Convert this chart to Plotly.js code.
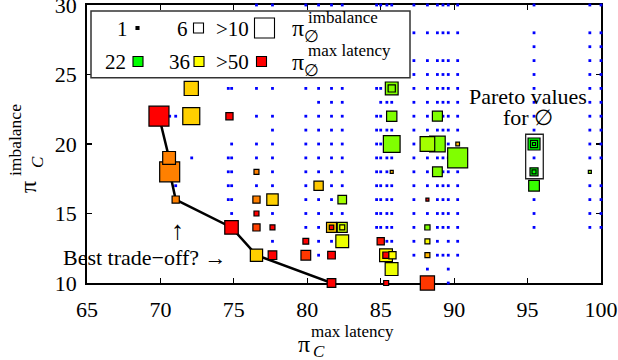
<!DOCTYPE html>
<html><head><meta charset="utf-8">
<script src="https://cdn.plot.ly/plotly-3.0.1.min.js"></script>
<style>html,body{margin:0;padding:0;background:#fff;font-family:"Liberation Serif",serif}#chart{width:618px;height:360px}</style>
</head><body><div id="chart"></div>
<script>
// ---- all evaluated configurations (blue dots): column x values and the rows present in each column
const dotCols = [70.63, 71.04, 72.13, 74.62, 74.85, 76.54, 77.63, 79.9, 80.77, 81.65, 82.38, 84.72, 85.0, 85.42, 85.75, 87.26, 88.18, 88.86, 89.24, 89.6, 90.24, 95.44, 99.24, 100.0];
const dotRows = [
  [22],
  [22,17],
  [19],
  [24,19,18,17,16],
  [24,20,19,18,17,16,15],
  [30,24,22,20,19,17],
  [30,24,22,21,20,19,18,17,15,13],
  [30,28,26,25,24,22,21,20,19,18,17,16,15,14],
  [30,28,26,25,24,23,22,21,20,19,18,16,15,14,13,12],
  [30,28,26,25,24,23,22,21,20,19,18,17,16,15,13],
  [30,28,26,25,24,23,22,21,20,19,18,17,15],
  [30,28,26,25,24,22,21,20,19,18,17,16,15,14],
  [30,28,26,25,24,23,22,21,20,19,18,17,16,15,14],
  [30,28,26,25,23,21,19,18,17,16,15,14,13],
  [30,28,26,25,23,21,19,17,16,15,14,13],
  [30,28,26,25,24,23,22,21,20,19,18,17,16,15,14,13,12],
  [30,28,26,25,24,23,22,21,19,18,17,15,11],
  [30,28,26,25,24,23,21,19,17,16,15,14,13,12],
  [30,28,26,25,24,23,22,21,20,19,18,17,16,15,14,12],
  [30,28,26,25,24,23,22,21,20,19,18,17,16,15,14,13,12,11,10],
  [30,28,26,25,24,23,22,21,18,17,16,15,14,13,12],
  [30,28,27,26,25,24,23,22,21,19,16,15,14],
  [30,28,27,26,25,24,23,22,21,20,19,17,16,15,14],
  [30,28,27,26,25,24,23,22,21,20,19,17,16,15,14]
];

// ---- configurations of C (squares): x = pi_C^max latency, y = pi_C^imbalance,
// imb = pi_Ø^imbalance (square size), lat = pi_Ø^max latency (colour)
const sqX   = [69.9, 70.63, 70.59, 71.04, 74.84, 76.54, 81.65, 72.1, 72.1, 74.7, 76.54, 76.54, 76.54, 76.54, 77.63, 77.63, 77.63, 80.77, 82.38, 81.65, 81.65, 82.38, 82.38, 82.38, 79.9, 79.9, 81.65, 85.0, 85.36, 85.36, 85.8, 85.74, 85.37, 85.75, 85.75, 85.75, 85.75, 85.75, 88.86, 88.86, 88.18, 90.24, 90.24, 88.86, 88.18, 88.18, 88.18, 88.18, 88.18, 95.44, 95.44, 95.44, 95.44, 95.44, 95.44, 99.24, 100.05];
const sqY   = [22, 18, 19, 16, 14, 12, 10, 24, 22, 22, 18, 16, 15, 14, 16, 14, 12, 17, 16, 14, 14, 14, 14, 13, 13, 12, 12, 13, 12, 12, 12, 11, 10, 24, 24, 22, 20, 18, 22, 20, 20, 19, 20, 18, 16, 14, 13, 12, 10, 20, 20, 20, 18, 18, 17, 18, 18];
const sqImb = [14, 14, 8, 4, 8.5, 7.6, 5, 9, 11, 4, 2.4, 4, 2.4, 4, 7, 2.4, 5, 5.5, 5, 6, 2, 6, 2.4, 8, 3, 5.8, 4.3, 4, 8, 3.4, 4, 8, 2.4, 8, 4, 6.2, 10.8, 1, 6, 10, 9.3, 14, 1.5, 5.8, 1, 2.6, 2.4, 2.4, 9, 7.4, 3.9, 1, 4.6, 1.7, 6.5, 1, 1];
const sqLat = [55, 43, 43, 43, 52, 38.6, 52, 38.6, 38.6, 52, 43, 43, 52, 46.5, 38.6, 52, 52, 39, 31, 39, 52, 33, 35, 35, 52, 47, 52, 49, 36, 52, 36, 35, 52, 29, 29, 29, 29, 40, 29, 29, 31, 29, 40, 29, 50, 29, 36, 40, 47, 22, 22, 22, 22, 22, 25, 30, 30];

// ---- Pareto front of C
const frontX = [69.9, 70.59, 70.63, 71.04, 74.84, 76.54, 81.65];
const frontY = [22, 19, 18, 16, 14, 12, 10];

const xTicks = [65, 70, 75, 80, 85, 90, 95, 100];
const yTicks = [10, 15, 20, 25, 30];
const legendSizeLabels = ['1', '6', '>10'];
const legendSizeValues = [1, 6, 14];
const legendLatLabels = ['22', '36', '>50'];
const legendLatValues = [22, 36, 50];

const FONT = 'Liberation Serif';
const sizePx = v => Math.min(20, 1.6 + 1.4 * v);
const colorscale = [[0, '#00ff00'], [0.5, '#ffff00'], [1, '#ff0000']];
const latColor = v => {
  const t = Math.max(0, Math.min(1, (v - 22) / 28));
  if (t <= 0.5) return 'rgb(' + Math.round(510 * t) + ',255,0)';
  return 'rgb(255,' + Math.round(255 * (1 - t) * 2) + ',0)';
};

const dx = [], dy = [];
dotCols.forEach((c, i) => dotRows[i].forEach(r => { dx.push(c); dy.push(r); }));

const traces = [
  { type: 'scatter', mode: 'markers', x: dx, y: dy, hoverinfo: 'skip', cliponaxis: false,
    marker: { symbol: 'square', size: 2.8, color: '#0000ff', opacity: 1, line: { width: 0 } } },
  { type: 'scatter', mode: 'lines', x: frontX, y: frontY, hoverinfo: 'skip',
    line: { color: '#000', width: 2.5 } },
  { type: 'scatter', mode: 'markers', x: sqX, y: sqY, cliponaxis: false,
    marker: { symbol: 'square', size: sqImb.map(sizePx), color: sqLat, colorscale: colorscale, opacity: 1,
      cmin: 22, cmax: 50, showscale: false, line: { color: '#000', width: 1.2 } } }
];

// plot area in pixels: x 87..601, y 5..283
const PL = 87, PR = 601, PT = 5, PB = 283;
const px = p => (p - PL) / (PR - PL);
const py = p => (PB - p) / (PB - PT);

const shapes = [
  { type: 'rect', xref: 'x', yref: 'y', x0: 94.87, x1: 96.07, y0: 17.5, y1: 20.7,
    line: { color: '#222', width: 1.3 }, layer: 'above' },
  { type: 'rect', xref: 'paper', yref: 'paper', x0: px(91), x1: px(410), y0: py(77.7), y1: py(11),
    fillcolor: '#fff', line: { color: '#333', width: 1.5 }, layer: 'above' }
];
const annotations = [];
function ann(text, x, y, size, extra) {
  annotations.push(Object.assign({ text: text, xref: 'paper', yref: 'paper', x: px(x), y: py(y),
    xanchor: 'center', yanchor: 'middle', showarrow: false, font: { family: FONT, size: size, color: '#000' } }, extra || {}));
}
function sq(cx, cy, s, fill) {
  shapes.push({ type: 'rect', xref: 'paper', yref: 'paper', x0: px(cx - s / 2), x1: px(cx + s / 2),
    y0: py(cy + s / 2), y1: py(cy - s / 2), fillcolor: fill, line: { color: '#000', width: 1.1 }, layer: 'above' });
}
// legend row 1 (size)
const lgX = [122, 182.5, 232.5];
const lgSqX = [137.5, 198.5, 264.5];
legendSizeLabels.forEach((t, i) => {
  ann(t.replace('>', '&gt;'), lgX[i], 29, 21);
  sq(lgSqX[i], 28, sizePx(legendSizeValues[i]), i === 0 ? '#000' : '#fff');
});
// legend row 2 (colour)
const lgX2 = [115, 179.5, 232.5];
const lgSqX2 = [138, 199, 261.5];
legendLatLabels.forEach((t, i) => {
  ann(t.replace('>', '&gt;'), lgX2[i], 62, 21);
  sq(lgSqX2[i], 61.5, 10, latColor(legendLatValues[i]));
});
ann('π', 298, 28, 24);
ann('imbalance', 306, 17.5, 17, { xanchor: 'left' });
ann('∅', 311.5, 37, 17);
ann('π', 298, 62, 24);
ann('max latency', 306, 51, 17, { xanchor: 'left' });
ann('∅', 311.5, 71, 17);

// axis titles
ann('π', 304, 344, 24);
ann('max latency', 309, 331, 17, { xanchor: 'left' });
ann('<i>C</i>', 319, 351, 17);
ann('π', 28, 187, 24, { textangle: -90 });
ann('imbalance', 15, 140, 17.5, { textangle: -90 });
ann('<i>C</i>', 37, 162, 17, { textangle: -90 });

// text notes in data coordinates
const noteFont = { family: FONT, size: 22, color: '#000' };
annotations.push({ text: 'Pareto values', x: 95.01, y: 23.42, xref: 'x', yref: 'y', showarrow: false,
  xanchor: 'center', yanchor: 'middle', font: noteFont });
annotations.push({ text: 'for ∅', x: 95.05, y: 21.88, xref: 'x', yref: 'y', showarrow: false,
  xanchor: 'center', yanchor: 'middle', font: noteFont });
annotations.push({ text: 'Best trade−off? →', x: 68.94, y: 11.83, xref: 'x', yref: 'y', showarrow: false,
  xanchor: 'center', yanchor: 'middle', font: noteFont });
annotations.push({ text: '↑', x: 71.16, y: 13.78, xref: 'x', yref: 'y', showarrow: false,
  xanchor: 'center', yanchor: 'middle', font: { family: FONT, size: 26, color: '#000' } });

const axisCommon = {
  showgrid: false, zeroline: false, showline: true, mirror: 'ticks', linecolor: '#000', linewidth: 1.8,
  ticks: 'inside', ticklen: 5, tickwidth: 1.2, tickcolor: '#000', layer: 'below traces',
  ticklabeloverflow: 'allow', tickfont: { family: FONT, size: 22, color: '#000' }
};
const layout = {
  width: 618, height: 360, showlegend: false,
  font: { family: FONT, size: 21, color: '#000' },
  margin: { l: PL, r: 618 - PR, t: PT, b: 360 - PB },
  paper_bgcolor: '#fff', plot_bgcolor: '#fff',
  xaxis: Object.assign({}, axisCommon, { range: [65, 100], tickvals: xTicks, ticktext: xTicks.map(String), ticklabelstandoff: 6 }),
  yaxis: Object.assign({}, axisCommon, { range: [9.9999, 30.0001], tickvals: yTicks, ticktext: yTicks.map(String), ticklabelstandoff: 4 }),
  shapes: shapes, annotations: annotations
};
Plotly.newPlot('chart', traces, layout, { staticPlot: true, displayModeBar: false });
</script>
</body></html>
